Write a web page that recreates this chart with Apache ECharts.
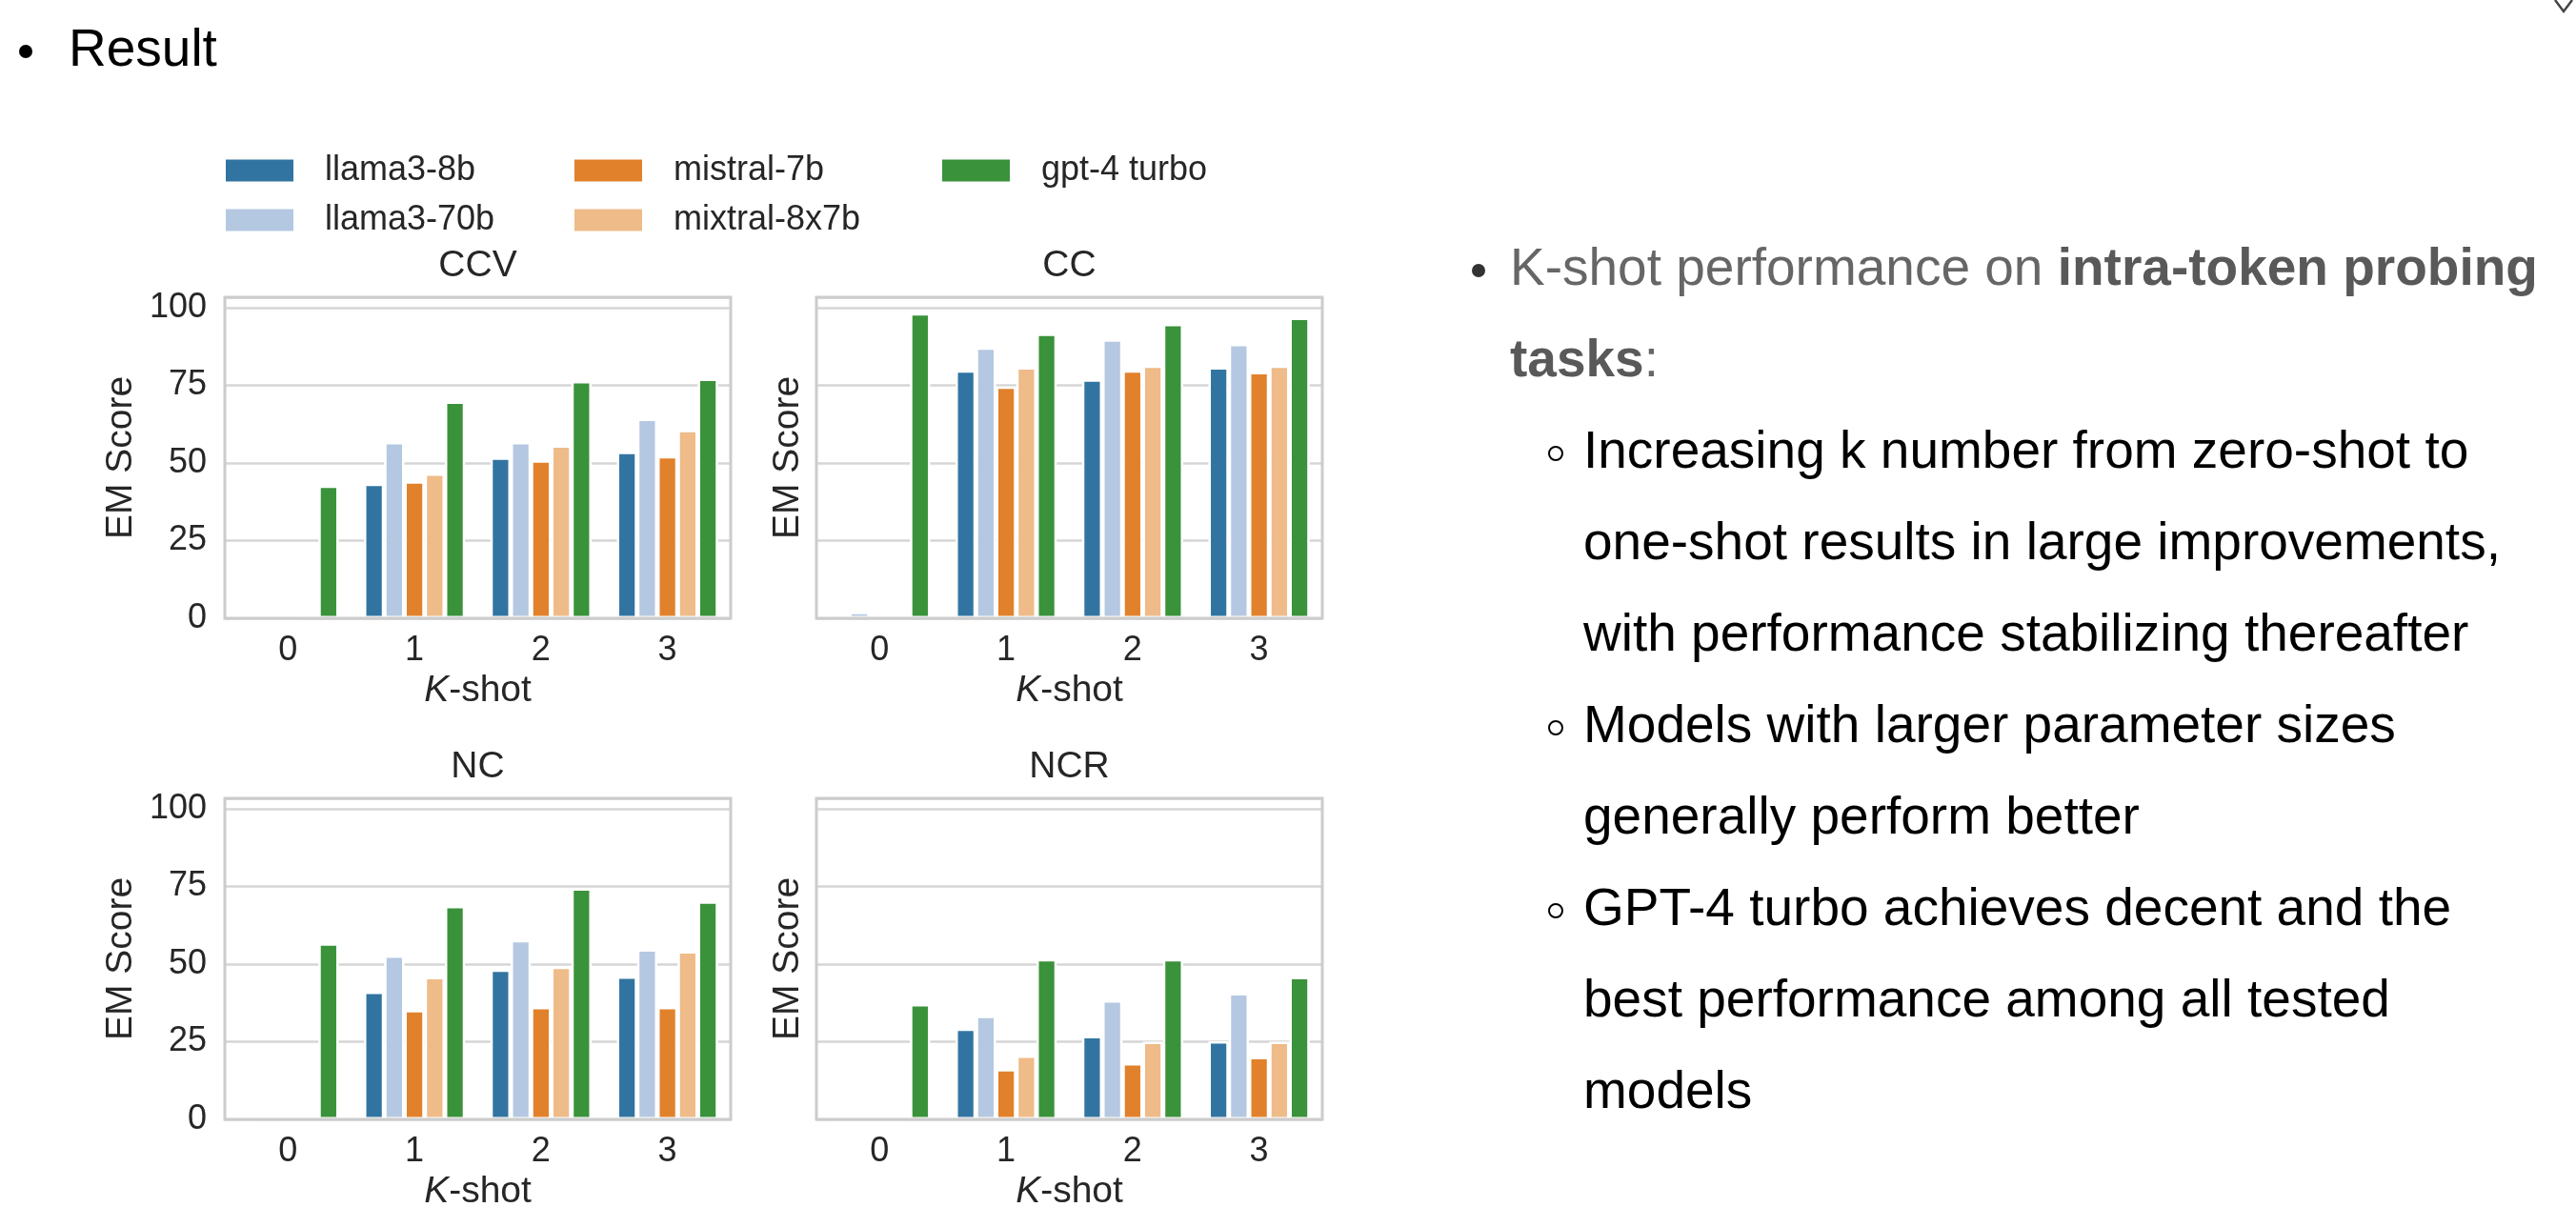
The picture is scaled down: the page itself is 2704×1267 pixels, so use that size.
<!DOCTYPE html>
<html>
<head>
<meta charset="utf-8">
<title>K-shot EM Score</title>
<script src="https://cdn.jsdelivr.net/npm/echarts@6/dist/echarts.min.js"></script>
<style>
  html, body { margin: 0; padding: 0; background: #fff; }
  #main { width: 2704px; height: 1267px; }
</style>
</head>
<body>
<div id="main"></div>
<script>
// categories / legend
var kShots = ['0', '1', '2', '3']
var models = ['llama3-8b', 'llama3-70b', 'mistral-7b', 'mixtral-8x7b', 'gpt-4 turbo']
var modelColors = ['#3274a1', '#b5c8e1', '#e1812c', '#eebb89', '#3a923a']
var taskNames = ['CCV', 'CC', 'NC', 'NCR']

// EM scores: one row per model (same order as models), one value per k-shot
var ccvScores = [
  [0, 43.3, 51.7, 53.6],
  [0, 56.7, 56.7, 64.2],
  [0, 44.1, 50.8, 52.2],
  [0.8, 46.6, 55.6, 60.6],
  [42.7, 69.7, 76.3, 77.1]
]
var ccScores = [
  [0, 79.8, 76.9, 80.8],
  [2.1, 87.1, 89.7, 88.3],
  [0, 74.6, 79.8, 79.2],
  [0, 80.8, 81.3, 81.3],
  [98.2, 91.6, 94.7, 96.7]
]
var ncScores = [
  [0, 41.1, 48.2, 46.0],
  [0.7, 52.7, 57.7, 54.7],
  [0, 35.2, 36.2, 36.2],
  [0, 45.8, 49.1, 54.1],
  [56.6, 68.7, 74.3, 70.1]
]
var ncrScores = [
  [0, 29.2, 26.8, 25.1],
  [0, 33.3, 38.3, 40.6],
  [0, 16.2, 18.1, 20.1],
  [0, 20.5, 25.0, 25.0],
  [37.1, 51.6, 51.6, 45.8]
]
var yMax = 103.3

// slide text
var leftHeading = 'Result'
var topBulletRich = '{n|K-shot performance on }{b|intra-token probing}'
var topBulletRich2 = '{b|tasks}{n|:}'
var subLines = [
  'Increasing k number from zero-shot to',
  'one-shot results in large improvements,',
  'with performance stabilizing thereafter',
  'Models with larger parameter sizes',
  'generally perform better',
  'GPT-4 turbo achieves decent and the',
  'best performance among all tested',
  'models'
]
var subBulletAt = [0, 3, 5]

var FONT = '"Liberation Sans", Arial, Helvetica, sans-serif'
var TXT = '#262626'

// layout of the 2x2 panels
var colLeft = [236, 857]
var rowTop = [312, 838]
var pw = 531
var ph = 337
var allScores = [ccvScores, ccScores, ncScores, ncrScores]

var myChart = echarts.init(document.getElementById('main'))

var grids = []
var xAxes = []
var yAxes = []
var series = []
var graphics = []

allScores.forEach(function (scores, p) {
  var col = p % 2
  var row = Math.floor(p / 2)
  var showY = col === 0
  grids.push({
    left: colLeft[col],
    top: rowTop[row],
    width: pw,
    height: ph,
    show: true,
    z: 3,
    backgroundColor: 'transparent',
    borderColor: '#cccccc',
    borderWidth: 3,
    containLabel: false,
    outerBoundsMode: 'none'
  })
  xAxes.push({
    gridIndex: p,
    type: 'category',
    data: kShots,
    axisLine: { show: false },
    axisTick: { show: false },
    axisLabel: { fontSize: 36, color: TXT, fontFamily: FONT, margin: 16 },
    name: '{i|K}-shot',
    nameLocation: 'middle',
    nameGap: 57,
    nameTextStyle: {
      fontSize: 39, color: TXT, fontFamily: FONT,
      rich: { i: { fontStyle: 'italic', fontSize: 39, color: TXT, fontFamily: FONT } }
    }
  })
  yAxes.push({
    gridIndex: p,
    type: 'value',
    min: 0,
    max: yMax,
    interval: 25,
    axisLine: { show: false },
    axisTick: { show: false },
    axisLabel: { show: showY, fontSize: 36, color: TXT, fontFamily: FONT, margin: 19, showMaxLabel: false },
    splitLine: { lineStyle: { color: '#d6d6d6', width: 2.5 } },
    name: 'EM Score',
    nameLocation: 'middle',
    nameGap: showY ? 89 : 10,
    nameTextStyle: { fontSize: 39, color: TXT, fontFamily: FONT }
  })
  models.forEach(function (m, i) {
    series.push({
      type: 'bar',
      name: m,
      xAxisIndex: p,
      yAxisIndex: p,
      data: scores[i],
      barGap: '0%',
      barCategoryGap: '20%',
      itemStyle: { color: modelColors[i], borderColor: '#ffffff', borderWidth: 2.5 },
      emphasis: { disabled: true }
    })
  })
  // panel title
  graphics.push({
    type: 'text',
    x: colLeft[col] + pw / 2,
    y: rowTop[row] - 33,
    style: { text: taskNames[p], font: '39px ' + FONT, fill: TXT, align: 'center', verticalAlign: 'middle' }
  })
})

// legend in 3 columns, filled column by column
var legendCols = [[models[0], models[1]], [models[2], models[3]], [models[4]]]
var legendX = [230, 596, 982]
var legends = legendCols.map(function (names, c) {
  return {
    orient: 'vertical',
    left: legendX[c],
    top: 156,
    itemWidth: 73,
    itemHeight: 25,
    itemGap: 16,
    icon: 'rect',
    selectedMode: false,
    data: names,
    textStyle: { fontSize: 36, lineHeight: 36, color: TXT, fontFamily: FONT, padding: [0, 0, 0, 27] }
  }
})

var greyRich = {
  n: { fontSize: 55, fontFamily: FONT, fill: '#666666' },
  b: { fontSize: 55, fontFamily: FONT, fontWeight: 'bold', fill: '#595959' }
}

// slide text around the figure
graphics.push(
  { type: 'circle', shape: { cx: 27, cy: 54, r: 7 }, style: { fill: '#000' } },
  { type: 'text', x: 72, y: 54, style: { text: leftHeading, font: '55px ' + FONT, fill: '#000', verticalAlign: 'middle' } },
  { type: 'circle', shape: { cx: 1552, cy: 284, r: 7 }, style: { fill: '#333' } },
  { type: 'text', x: 1585, y: 284, style: { text: topBulletRich, verticalAlign: 'middle', rich: greyRich } },
  { type: 'text', x: 1585, y: 380, style: { text: topBulletRich2, verticalAlign: 'middle', rich: greyRich } },
  { type: 'polyline', shape: { points: [[2682, 0], [2691, 12], [2700, 0]] }, style: { stroke: '#444', lineWidth: 2.5, fill: null } }
)
subLines.forEach(function (line, i) {
  var y = 476 + 96 * i
  graphics.push({ type: 'text', x: 1662, y: y, style: { text: line, font: '55px ' + FONT, fill: '#000', verticalAlign: 'middle' } })
  if (subBulletAt.indexOf(i) >= 0) {
    graphics.push({ type: 'circle', shape: { cx: 1633, cy: y, r: 7 }, style: { fill: null, stroke: '#000', lineWidth: 2 } })
  }
})

myChart.setOption({
  animation: false,
  backgroundColor: '#ffffff',
  grid: grids,
  xAxis: xAxes,
  yAxis: yAxes,
  legend: legends,
  series: series,
  graphic: graphics
})
</script>
</body>
</html>
